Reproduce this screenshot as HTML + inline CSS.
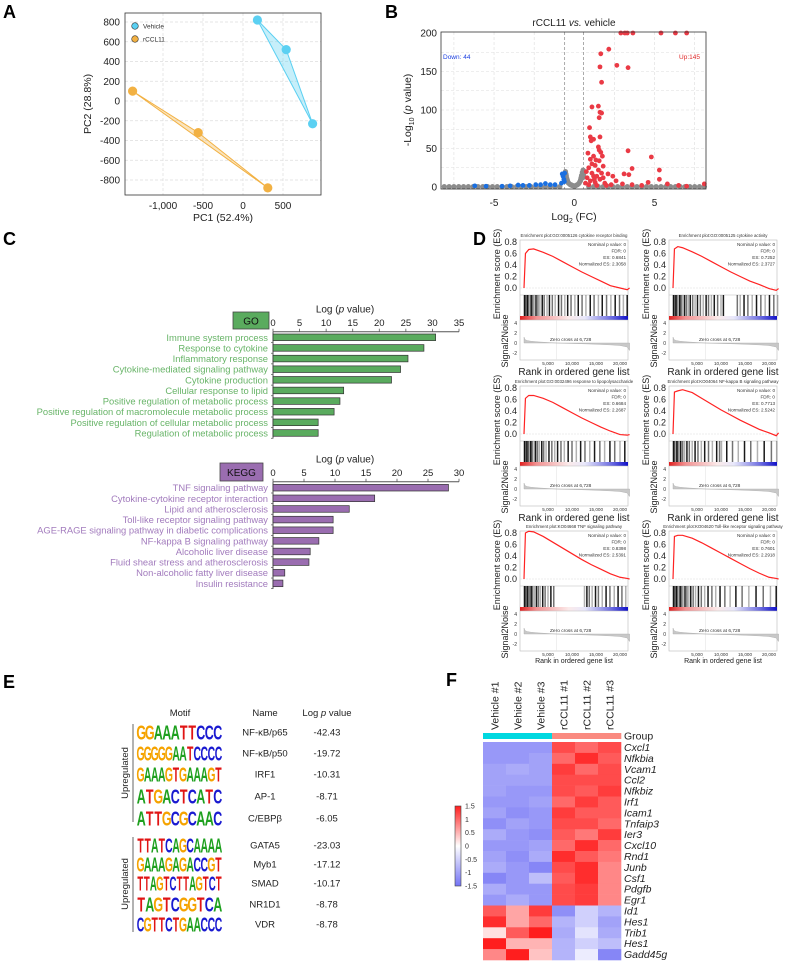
<!DOCTYPE html>
<html><head><meta charset="utf-8"><style>
html,body{margin:0;padding:0;background:#fff}
svg{display:block;font-family:"Liberation Sans",Arial,sans-serif}
</style></head><body>
<svg id="fig" width="787" height="962" viewBox="0 0 787 962" xmlns="http://www.w3.org/2000/svg"></svg>
<script>
// ---------- DATA ----------
const pcaVehicleX=[180,540,870], pcaVehicleY=[820,520,-230];
const pcaRcclX=[-1380,-560,310], pcaRcclY=[100,-320,-880];
const pcaYTicks=[800,600,400,200,0,-200,-400,-600,-800];
const pcaXTicks=[-1000,-500,0,500];
const pcaXTickLabels=["-1,000","-500","0","500"];

const volRedX=[2.9,3.15,3.3,3.65,5.4,6.3,7.0,2.15,1.65,2.65,1.6,3.35,1.7,1.1,1.5,1.6,1.7,1.55,0.95,1.0,1.6,1.2,1.05,1.5,1.55,1.65,0.85,1.2,1.75,3.35,4.8,1.0,1.35,1.55,1.1,1.3,1.8,0.9,1.5,1.7,2.1,3.6,3.1,3.4,5.3,5.3,1.2,0.8,1.0,1.3,1.6,1.9,2.3,2.6,3.0,3.6,4.2,4.6,5.8,6.5,7.0,8.1,0.7,0.9,1.4,2.0,1.1,1.4,1.8,0.75,1.25,2.4];
const volRedY=[200,200,200,200,200,200,200,179,173,158,156,155,136,104,105,97,96,90,77,65,65,62,60,52,48,45,44,40,40,47,39,36,35,34,30,28,27,25,22,18,17,24,17,16,22,10,14,12,8,6,10,5,3,8,4,3,2,6,4,2,1,4,5,3,2,2,18,14,12,20,10,14];
const volBlueX=[-0.75,-0.6,-0.7,-0.65,-0.62,-0.8,-1.2,-1.5,-1.8,-2.1,-2.4,-2.8,-3.2,-3.5,-4.0,-4.5,-6.2,-5.5];
const volBlueY=[17,18,14,10,7,5,3,3,4.5,3,3,2,2,2.5,1.5,1,1.5,1];
const volGrayX=[-0.55,-0.5,-0.45,-0.4,-0.3,-0.2,-0.1,0,0.1,0.2,0.3,0.4,0.45,0.5,0.55,0.6,-0.58,0.52,0.35,-0.35,-0.52,-0.48,-0.42,-0.25,-0.15,0.05,0.15,0.25,0.38,0.48,0.57,0.58,-0.56,0.42,-8.1,-7.8,-7.5,-7.2,-6.9,-6.6,-6.3,-6.0,-5.7,-5.4,-5.1,-4.8,-4.5,-4.2,-3.9,-3.6,-3.3,-3.0,-2.7,-2.4,-2.1,-1.8,-1.5,-1.2,-0.9,0.9,1.2,1.5,1.8,2.1,2.4,2.7,3.0,3.3,3.6,3.9,4.2,4.5,4.8,5.1,5.4,5.7,6.0,6.3,6.6,6.9,7.2,7.5,7.8,8.1];
const volGrayY=[20,15,10,6,4,3,2,1,2,3,5,10,15,19,22,18,12,12,7,5,17,12,8,3,2,1.5,2.5,4,8,14,20,14,16,12,0.5,0.5,0.5,0.5,0.5,0.5,0.5,0.5,0.5,0.5,0.5,0.5,0.5,0.5,0.5,0.5,0.5,0.5,0.5,0.5,0.5,0.5,0.5,0.5,0.5,0.5,0.5,0.5,0.5,0.5,0.5,0.5,0.5,0.5,0.5,0.5,0.5,0.5,0.5,0.5,0.5,0.5,0.5,0.5,0.5,0.5,0.5,0.5,0.5,0.5];
const volYTicks=[0,50,100,150,200];
const volXTicks=[-5,0,5];

const goTerms=["Immune system process","Response to cytokine","Inflammatory response","Cytokine-mediated signaling pathway","Cytokine production","Cellular response to lipid","Positive regulation of metabolic process","Positive regulation of macromolecule metabolic process","Positive regulation of cellular metabolic process","Regulation of metabolic process"];
const goValues=[30.6,28.4,25.4,24.0,22.3,13.3,12.6,11.5,8.5,8.5];
const goTicks=[0,5,10,15,20,25,30,35];
const keggTerms=["TNF signaling pathway","Cytokine-cytokine receptor interaction","Lipid and atherosclerosis","Toll-like receptor signaling pathway","AGE-RAGE signaling pathway in diabetic complications","NF-kappa B signaling pathway","Alcoholic liver disease","Fluid shear stress and atherosclerosis","Non-alcoholic fatty liver disease","Insulin resistance"];
const keggValues=[28.3,16.4,12.3,9.7,9.7,7.4,6.0,5.8,1.9,1.6];
const keggTicks=[0,5,10,15,20,25,30];

const gseaTitles=["Enrichment plot:GO:0005126 cytokine receptor binding","Enrichment plot:GO:0005125 cytokine activity","Enrichment plot:GO:0032496 response to lipopolysaccharide","Enrichment plot:KO04064 NF-kappa B signaling pathway","Enrichment plot:KO04668 TNF signaling pathway","Enrichment plot:KO04620 Toll-like receptor signaling pathway"];
const gseaES=["0.6841","0.7252","0.6684","0.7713","0.8398","0.7601"];
const gseaNES=["2.3058","2.3727","2.2687","2.5242","2.5391","2.2918"];
const esRanks=[0,0.3,1,2,4,6,8,10,12,14,16,18,20,21.5,22];
const esCurve1=[0,0.6,0.67,0.68,0.62,0.55,0.46,0.37,0.28,0.2,0.12,0.04,0.0,-0.03,0.0];
const esCurve2=[0,0.68,0.72,0.70,0.63,0.55,0.46,0.37,0.28,0.20,0.12,0.06,-0.01,-0.04,-0.01];
const esCurve3=[0,0.62,0.67,0.67,0.62,0.55,0.46,0.37,0.28,0.2,0.12,0.05,-0.01,-0.02,-0.01];
const esCurve4=[0,0.73,0.75,0.77,0.72,0.62,0.52,0.42,0.33,0.24,0.16,0.08,0.02,-0.03,0.02];
const esCurve5=[0,0.80,0.83,0.82,0.74,0.64,0.54,0.44,0.34,0.25,0.17,0.09,0.03,0.01,0.0];
const esCurve6=[0,0.74,0.76,0.76,0.71,0.63,0.54,0.45,0.36,0.27,0.18,0.10,0.03,0.01,0.0];
const hits1=[0.1,0.3,0.5,0.7,0.9,1.2,1.5,1.8,2.1,2.5,2.9,3.3,3.8,4.2,4.8,5.3,5.9,6.5,7.2,7.8,8.5,9.1,9.8,10.6,11.3,12.1,12.9,13.8,14.6,15.5,16.3,17.2,18.1,19.0,19.9,20.7,21.5];
const hits2=[0.1,0.2,0.4,0.6,0.8,1.1,1.4,1.7,2.0,2.4,2.8,3.2,3.6,4.1,4.6,5.1,5.7,6.3,6.9,7.4,8.0,8.6,9.3,10.0,10.5,13.4,14.0,14.8,15.6,16.5,17.4,18.3,19.2,20.1,21.0,21.8];
const hits3=[0.1,0.2,0.4,0.6,0.9,1.1,1.4,1.7,2.1,2.4,2.8,3.2,3.7,4.1,4.6,5.2,5.8,6.4,7.0,7.7,8.4,9.2,10.0,10.9,11.8,12.7,13.7,14.7,15.8,16.8,17.9,18.9,20.0,21.0];
const hits4=[0.1,0.3,0.5,0.8,1.0,1.3,1.6,2.0,2.4,2.9,3.4,4.0,4.6,5.2,5.9,6.6,7.4,8.2,9.1,9.7,10.1,11.2,12.4,13.6,14.9,16.2,17.6,19.0,20.5,21.6];
const hits5=[0.1,0.3,0.5,0.7,1.0,1.2,1.5,1.8,2.2,2.6,3.0,3.4,3.9,4.4,5.0,5.6,6.2,12.6,13.1,13.6,14.2,14.9,15.5,16.3,17.1,17.9,18.8,19.6,20.4,21.2];
const hits6=[0.1,0.3,0.5,0.7,0.9,1.2,1.5,1.8,2.1,2.5,2.9,3.3,3.7,4.2,4.7,5.3,5.9,6.6,7.3,8.1,8.9,9.8,10.8,11.9,13.1,14.4,15.8,17.3,18.8,20.3,21.5];
const metricRanks=[0,0.2,0.6,1.5,3,5,6.728,9,12,15,18,20,21.5,22];
const metricValues=[1.2,0.7,0.5,0.35,0.22,0.1,0,-0.08,-0.15,-0.25,-0.38,-0.5,-0.8,-1.5];
const gseaRankTicks=[5,10,15,20];
const gseaRankTickLabels=["5,000","10,000","15,000","20,000"];
const esTicks=[0.0,0.2,0.4,0.6,0.8];

const motifNames=["NF-κB/p65","NF-κB/p50","IRF1","AP-1","C/EBPβ","GATA5","Myb1","SMAD","NR1D1","VDR"];
const motifPvals=["-42.43","-19.72","-10.31","-8.71","-6.05","-23.03","-17.12","-10.17","-8.78","-8.78"];
const motifSeqs=["GGAAATTCCC","GGGGGAATCCCC","GAAAGTGAAAGT","ATGACTCATC","ATTGCGCAAC","TTATCAGCAAAA","GAAAGAGACCGT","TTAGTCTTAGTCT","TAGTCGGTCA","CGTTCTGAACCC"];

const heatCols=["Vehicle #1","Vehicle #2","Vehicle #3","rCCL11 #1","rCCL11 #2","rCCL11 #3"];
const heatGenes=["Cxcl1","Nfkbia","Vcam1","Ccl2","Nfkbiz","Irf1","Icam1","Tnfaip3","Ier3","Cxcl10","Rnd1","Junb","Csf1","Pdgfb","Egr1","Id1","Hes1","Trib1","Hes1","Gadd45g"];
const heatValues=[
[-1.1,-1.1,-1.1,1.2,1.0,1.2],[-1.1,-1.1,-1.0,1.0,1.4,1.1],[-1.0,-0.9,-1.0,1.3,1.0,1.2],[-1.0,-1.0,-1.0,1.2,1.2,1.2],
[-1.0,-1.1,-1.1,1.2,1.1,1.3],[-1.1,-1.1,-1.0,1.0,1.3,1.1],[-1.0,-1.2,-1.1,1.3,1.1,1.1],[-1.2,-1.0,-1.1,1.2,1.2,1.0],
[-0.9,-1.1,-1.2,1.1,0.9,1.3],[-1.1,-1.1,-1.0,1.0,1.4,1.0],[-1.0,-1.2,-0.9,1.4,1.1,0.9],[-0.9,-1.1,-1.3,1.2,1.4,0.8],
[-1.3,-1.1,-0.7,1.1,1.4,0.8],[-0.9,-1.1,-1.1,1.2,1.3,0.8],[-1.1,-0.9,-1.1,1.2,1.3,0.8],[1.1,0.6,1.3,-1.2,-0.5,-0.8],
[1.4,0.6,1.0,-0.8,-0.5,-1.0],[0.2,1.1,1.6,-0.9,-0.3,-0.9],[1.7,0.5,0.5,-0.8,-0.5,-0.7],[0.8,1.5,0.4,-0.8,-0.2,-1.3]];
const heatTicks=[1.5,1,0.5,0,-0.5,-1,-1.5];

// ---------- HELPERS ----------
const NS="http://www.w3.org/2000/svg";
const svg=document.getElementById('fig');
function mk(tag,attrs,parent,txt){const e=document.createElementNS(NS,tag);for(const k in attrs)e.setAttribute(k,attrs[k]);if(txt!==undefined)e.textContent=txt;(parent||svg).appendChild(e);return e;}
function grp(name){const g=mk('g',{});return g;}

[["A",3,18],["B",385,18],["C",3,245],["D",473,245],["E",3,688],["F",446,686]].forEach(p=>{
 const t=mk('text',{x:p[1],y:p[2],'font-size':18,'font-weight':'bold'},svg,p[0]);
 
 
});

// ---------- PANEL A ----------
(function(){
 const g=grp('pca-panel');
 const xA=v=>243+v*0.08, yA=v=>101-v*0.09875;
 pcaYTicks.forEach(v=>{const l=mk('line',{x1:125,x2:321,y1:yA(v),y2:yA(v),stroke:'#ddd','stroke-dasharray':'3,2','stroke-width':0.7},g);
  const t=mk('text',{x:120,y:yA(v)+3.5,'font-size':10,'text-anchor':'end',fill:'#222'},g,String(v));});
 pcaXTicks.forEach((v,i)=>{const l=mk('line',{x1:xA(v),x2:xA(v),y1:13,y2:195,stroke:'#ddd','stroke-dasharray':'3,2','stroke-width':0.7},g);
  const t=mk('text',{x:xA(v),y:209,'font-size':10,'text-anchor':'middle',fill:'#222'},g,pcaXTickLabels[i]);});
 const f=mk('rect',{x:125,y:13,width:196,height:182,fill:'none',stroke:'#333','stroke-width':0.8},g);
 const hv=mk('polygon',{points:pcaVehicleX.map((x,i)=>xA(x)+','+yA(pcaVehicleY[i])).join(' '),fill:'rgba(91,208,242,0.35)',stroke:'#5bd0f2','stroke-width':1},g);
 const hr=mk('polygon',{points:pcaRcclX.map((x,i)=>xA(x)+','+yA(pcaRcclY[i])).join(' '),fill:'rgba(242,177,67,0.35)',stroke:'#f2b143','stroke-width':1},g);
 pcaVehicleX.forEach((x,i)=>{const c=mk('circle',{cx:xA(x),cy:yA(pcaVehicleY[i]),r:4.6,fill:'#5bd0f2'},g);});
 pcaRcclX.forEach((x,i)=>{const c=mk('circle',{cx:xA(x),cy:yA(pcaRcclY[i]),r:4.6,fill:'#f2b143'},g);});
 const l1=mk('circle',{cx:135,cy:26,r:3.3,fill:'#5bd0f2',stroke:'#333','stroke-width':0.6},g);
 const l2=mk('circle',{cx:135,cy:39,r:3.3,fill:'#f2b143',stroke:'#333','stroke-width':0.6},g);
 const t1=mk('text',{x:143,y:28.5,'font-size':6.5,fill:'#333'},g,'Vehicle');
 const t2=mk('text',{x:143,y:41.5,'font-size':6.5,fill:'#333'},g,'rCCL11');
 const xt=mk('text',{x:223,y:221,'font-size':10.5,'text-anchor':'middle',fill:'#222'},g,'PC1 (52.4%)');
 const yt=mk('text',{x:0,y:0,'font-size':10.5,'text-anchor':'middle',fill:'#222',transform:'translate(91,104) rotate(-90)'},g,'PC2 (28.8%)');
})();

// ---------- PANEL B ----------
(function(){
 const g=grp('volcano-panel');
 const xB=v=>574.3+v*16.05, yB=v=>187-v*0.77;
 [25,50,75,100,125,150,175].forEach(v=>{const l=mk('line',{x1:441,x2:706,y1:yB(v),y2:yB(v),stroke:'#ddd','stroke-dasharray':'3,2','stroke-width':0.6},g);});
 [-7.5,-5,-2.5,2.5,5,7.5].forEach(v=>{const l=mk('line',{x1:xB(v),x2:xB(v),y1:32,y2:189,stroke:'#ddd','stroke-dasharray':'3,2','stroke-width':0.6},g);});
 [-0.6,0.58].forEach(v=>{const l=mk('line',{x1:xB(v),x2:xB(v),y1:32,y2:189,stroke:'#888','stroke-dasharray':'3,2','stroke-width':0.7},g);});
 volGrayX.forEach((x,i)=>{const c=mk('circle',{cx:xB(x),cy:yB(volGrayY[i]),r:2.6,fill:'#8c8c8c'},g);});
 volBlueX.forEach((x,i)=>{const c=mk('circle',{cx:xB(x),cy:yB(volBlueY[i]),r:2.4,fill:'#1a6fe0'},g);});
 volRedX.forEach((x,i)=>{const c=mk('circle',{cx:xB(x),cy:yB(volRedY[i]),r:2.4,fill:'#ea3a45'},g);});
 const f=mk('rect',{x:441,y:32,width:265,height:157,fill:'none',stroke:'#333','stroke-width':0.8},g);
 volYTicks.forEach(v=>{const t=mk('text',{x:437,y:yB(v)+3.5,'font-size':10,'text-anchor':'end',fill:'#222'},g,String(v));});
 volXTicks.forEach(v=>{const t=mk('text',{x:xB(v),y:206,'font-size':10,'text-anchor':'middle',fill:'#222'},g,String(v));});
 const ti=mk('text',{x:574,y:26,'font-size':10,'text-anchor':'middle',fill:'#222'},g);
 ti.innerHTML='rCCL11 <tspan font-style="italic">vs.</tspan> vehicle';
 const d=mk('text',{x:443,y:59,'font-size':6.5,fill:'#1a3ee0'},g,'Down: 44');
 const u=mk('text',{x:700,y:59,'font-size':6.5,fill:'#e02a2a','text-anchor':'end'},g,'Up:145');
 const xt=mk('text',{x:574,y:220,'font-size':10.5,'text-anchor':'middle',fill:'#222'},g);
 xt.innerHTML='Log<tspan font-size="7" dy="3">2</tspan><tspan dy="-3"> (FC)</tspan>';
 const yt=mk('text',{x:0,y:0,'font-size':10.5,'text-anchor':'middle',fill:'#222',transform:'translate(411,110) rotate(-90)'},g);
 yt.innerHTML='-Log<tspan font-size="7" dy="3">10</tspan><tspan dy="-3"> (</tspan><tspan font-style="italic">p</tspan> value)';
})();

// ---------- PANEL C ----------
function barChart(name,terms,values,ticks,boxLabel,box,axisY,scale,rowY0,fill,labelColor,boxFill){
 const g=grp(name);
 const x0=273, xs=v=>x0+v*scale, rs=i=>rowY0+i*10.63;
 const tl=mk('text',{x:345,y:axisY-19,'font-size':10,'text-anchor':'middle',fill:'#222'},g);
 tl.innerHTML='Log (<tspan font-style="italic">p</tspan> value)';
 const ax=mk('line',{x1:x0,x2:xs(ticks[ticks.length-1]),y1:axisY,y2:axisY,stroke:'#555','stroke-width':1},g);
 ticks.forEach(v=>{const l=mk('line',{x1:xs(v),x2:xs(v),y1:axisY,y2:axisY-3,stroke:'#555','stroke-width':0.8},g);
  const t=mk('text',{x:xs(v),y:axisY-5.5,'font-size':9.5,'text-anchor':'middle',fill:'#222'},g,String(v));});
 const ya=mk('line',{x1:x0,x2:x0,y1:axisY,y2:rs(terms.length-1)+5.5,stroke:'#555','stroke-width':1},g);
 const b=mk('rect',{x:box[0],y:box[1],width:box[2],height:box[3],fill:boxFill,stroke:'#444','stroke-width':0.8},g);
 const bt=mk('text',{x:box[0]+box[2]/2,y:box[1]+box[3]/2+3.8,'font-size':10,'text-anchor':'middle',fill:'#111'},g,boxLabel);
 terms.forEach((t,i)=>{
  const r=mk('rect',{x:x0,y:rs(i)-3.3,width:values[i]*scale,height:6.6,fill:fill,stroke:'#333','stroke-width':0.7},g);
  const tk=mk('line',{x1:x0-2,x2:x0,y1:rs(i)+5.3,y2:rs(i)+5.3,stroke:'#555','stroke-width':0.7},g);
  const lb=mk('text',{x:268,y:rs(i)+3.5,'font-size':9.4,'text-anchor':'end',fill:labelColor},g,t);
 });
}
barChart('go-chart',goTerms,goValues,goTicks,'GO',[233,312,36,17],331.7,186/35,337.3,'#5aab5e','#68b468','#5aab5e');
barChart('kegg-chart',keggTerms,keggValues,keggTicks,'KEGG',[220,463,43,18],481.7,186/30,487.7,'#9a6db0','#a27bbd','#9a6db0');

// ---------- PANEL D ----------
(function(){
 const curves=[esCurve1,esCurve2,esCurve3,esCurve4,esCurve5,esCurve6];
 const hitsAll=[hits1,hits2,hits3,hits4,hits5,hits6];
 const colX=[520,669], rowT=[237,383,528];
 let defs=mk('defs',{});
 const lg=mk('linearGradient',{id:'rankgrad',x1:0,x2:1,y1:0,y2:0},defs);
 mk('stop',{offset:'0','stop-color':'#e02020'},lg);mk('stop',{offset:'0.15','stop-color':'#f29090'},lg);mk('stop',{offset:'0.45','stop-color':'#fbeaea'},lg);
 mk('stop',{offset:'0.6','stop-color':'#e8e8fb'},lg);mk('stop',{offset:'0.85','stop-color':'#6a6ae0'},lg);mk('stop',{offset:'1','stop-color':'#1010c8'},lg);
 for(let p=0;p<6;p++){
  const g=grp('gsea-plot-'+(p+1));
  const x0=colX[p%2], x1=x0+108, T=rowT[Math.floor(p/2)];
  const xr=r=>x0+4+r*4.8;
  const yE=v=>T+51-v*57.5;
  const yM=v=>T+106-v*5;
  const tt=mk('text',{x:(x0+x1)/2,y:T,'font-size':4.4,'text-anchor':'middle',fill:'#333'},g,gseaTitles[p]);
  const fr=mk('rect',{x:x0,y:T+3,width:108,height:120,fill:'none',stroke:'#bbb','stroke-width':0.6},g);
  const zl=mk('line',{x1:x0,x2:x1,y1:yE(0),y2:yE(0),stroke:'#ddd','stroke-width':0.5,'stroke-dasharray':'2,1'},g);
  esTicks.forEach(v=>{const t=mk('text',{x:x0-3,y:yE(v)+3,'font-size':9,'text-anchor':'end',fill:'#222'},g,v.toFixed(1));});
  const es=mk('polyline',{points:esRanks.map((r,i)=>xr(r)+','+yE(curves[p][i])).join(' '),fill:'none',stroke:'#f22','stroke-width':1.2},g);
  const stats=['Nominal p value: 0','FDR: 0','ES: '+gseaES[p],'Normalized ES: '+gseaNES[p]];
  stats.forEach((s,i)=>{const t=mk('text',{x:x1-2,y:T+9+i*6.5,'font-size':4.6,'text-anchor':'end',fill:'#333'},g,s);});
  const sep=mk('line',{x1:x0,x2:x1,y1:T+58,y2:T+58,stroke:'#bbb','stroke-width':0.6},g);
  hitsAll[p].forEach((h,i)=>{const l=mk('line',{x1:xr(h),x2:xr(h),y1:T+58,y2:T+79,stroke:'#000','stroke-width':1.5,'stroke-opacity':(i%3===0?0.9:(i%3===1?0.55:0.3))},g);});
  const cb=mk('rect',{x:x0,y:T+79,width:108,height:4,fill:'url(#rankgrad)'},g);
  const sep2=mk('line',{x1:x0,x2:x1,y1:T+83,y2:T+83,stroke:'#bbb','stroke-width':0.6},g);
  const zc=mk('line',{x1:xr(6.728),x2:xr(6.728),y1:T+83,y2:T+123,stroke:'#e4e4e4','stroke-width':0.6},g);
  const pts=metricRanks.map((r,i)=>xr(r)+','+yM(metricValues[i]));
  const ar=mk('polygon',{points:xr(0)+','+yM(0)+' '+pts.join(' ')+' '+xr(22)+','+yM(0),fill:'#c8c8c8',stroke:'#aaa','stroke-width':0.4},g);
  [4,2,0,-2].forEach(v=>{const t=mk('text',{x:x0-3,y:yM(v)+1.8,'font-size':5,'text-anchor':'end',fill:'#333'},g,String(v));});
  const zt=mk('text',{x:x0+30,y:yM(0)-2,'font-size':4.8,fill:'#333'},g,'Zero cross at 6,728');
  gseaRankTicks.forEach((v,i)=>{const t=mk('text',{x:xr(v),y:T+128,'font-size':4.6,'text-anchor':'middle',fill:'#333'},g,gseaRankTickLabels[i]);});
  const big=p<4;
  const xl=mk('text',{x:(x0+x1)/2,y:T+(big?138:135),'font-size':big?10:7,'text-anchor':'middle',fill:'#222'},g,'Rank in ordered gene list');
  const yl=mk('text',{x:0,y:0,'font-size':9,'text-anchor':'middle',fill:'#222',transform:'translate('+(x0-20)+','+(T+37)+') rotate(-90)'},g,'Enrichment score (ES)');
  const y2=mk('text',{x:0,y:0,'font-size':9,'text-anchor':'middle',fill:'#222',transform:'translate('+(x0-12)+','+(T+104)+') rotate(-90)'},g,'Signal2Noise');
 }
})();

// ---------- PANEL E ----------
(function(){
 const g=grp('motif-table');
 const col={A:'#1ea01e',C:'#1a1ad0',G:'#f5a300',T:'#e01414'};
 const rowY=[732,753,774,796,818,845,864,883,904,924];
 [['Motif',180],['Name',265],['Log p value',327]].forEach(h=>{const t=mk('text',{x:h[1],y:716,'font-size':9.5,'text-anchor':'middle',fill:'#222'},g);
  if(h[0]==='Log p value'){t.innerHTML='Log <tspan font-style="italic">p</tspan> value';}else{t.textContent=h[0];}});
 motifSeqs.forEach((s,i)=>{
  const w=85/s.length;
  s.split('').forEach((ch,j)=>{const t=mk('text',{x:0,y:0,'font-size':14,'font-weight':'bold',fill:col[ch],'text-anchor':'middle',transform:'translate('+(137+w*(j+0.5))+','+(rowY[i]+7.5)+') scale('+(w/9.5)+',1.45)'},g,ch);});
  const n=mk('text',{x:265,y:rowY[i]+3.5,'font-size':9.5,'text-anchor':'middle',fill:'#222'},g,motifNames[i]);
  const pv=mk('text',{x:327,y:rowY[i]+3.5,'font-size':9.5,'text-anchor':'middle',fill:'#222'},g,motifPvals[i]);
 });
 [[724,822,773],[837,932,884]].forEach(b=>{const l=mk('line',{x1:133,x2:133,y1:b[0],y2:b[1],stroke:'#666','stroke-width':1},g);
  const t=mk('text',{x:0,y:0,'font-size':9.5,'text-anchor':'middle',fill:'#222',transform:'translate(128,'+b[2]+') rotate(-90)'},g,'Upregulated');});
})();

// ---------- PANEL F ----------
(function(){
 const g=grp('heatmap-panel');
 const cx=i=>483+i*23, ry=i=>742+i*10.9;
 function color(v){v=Math.max(-1.5,Math.min(1.5,v));let r,gg,b;
  if(v>=0){const t=v/1.5;r=255;gg=Math.round(255-t*225);b=Math.round(255-t*225);}
  else{const t=-v/1.5;r=Math.round(255-t*140);gg=Math.round(255-t*140);b=Math.round(255-t*10);}
  return 'rgb('+r+','+gg+','+b+')';}
 heatCols.forEach((c,i)=>{const t=mk('text',{x:0,y:0,'font-size':10.5,fill:'#222',transform:'translate('+(cx(i)+15.5)+',730) rotate(-90)'},g,c);
  const gb=mk('rect',{x:cx(i),y:733,width:23.3,height:6,fill:i<3?'#00d8e0':'#fa8a80'},g);});
 const gl=mk('text',{x:624,y:739.5,'font-size':10.5,fill:'#222'},g,'Group');
 heatValues.forEach((row,r)=>{row.forEach((v,c)=>{const cell=mk('rect',{x:cx(c),y:ry(r),width:23.3,height:11.2,fill:color(v)},g);});
  const t=mk('text',{x:624,y:ry(r)+9,'font-size':10.5,'font-style':'italic',fill:'#222'},g,heatGenes[r]);});
 let defs=mk('defs',{});
 const lg=mk('linearGradient',{id:'heatgrad',x1:0,x2:0,y1:0,y2:1},defs);
 mk('stop',{offset:'0','stop-color':color(1.5)},lg);mk('stop',{offset:'0.5','stop-color':'#fff'},lg);mk('stop',{offset:'1','stop-color':color(-1.5)},lg);
 const cb=mk('rect',{x:455,y:806,width:6,height:80,fill:'url(#heatgrad)',stroke:'#444','stroke-width':0.6},g);
 heatTicks.forEach(v=>{const t=mk('text',{x:465,y:806+(1.5-v)/3*80+2.5,'font-size':7,fill:'#333'},g,String(v));});
})();
</script>
</body></html>
